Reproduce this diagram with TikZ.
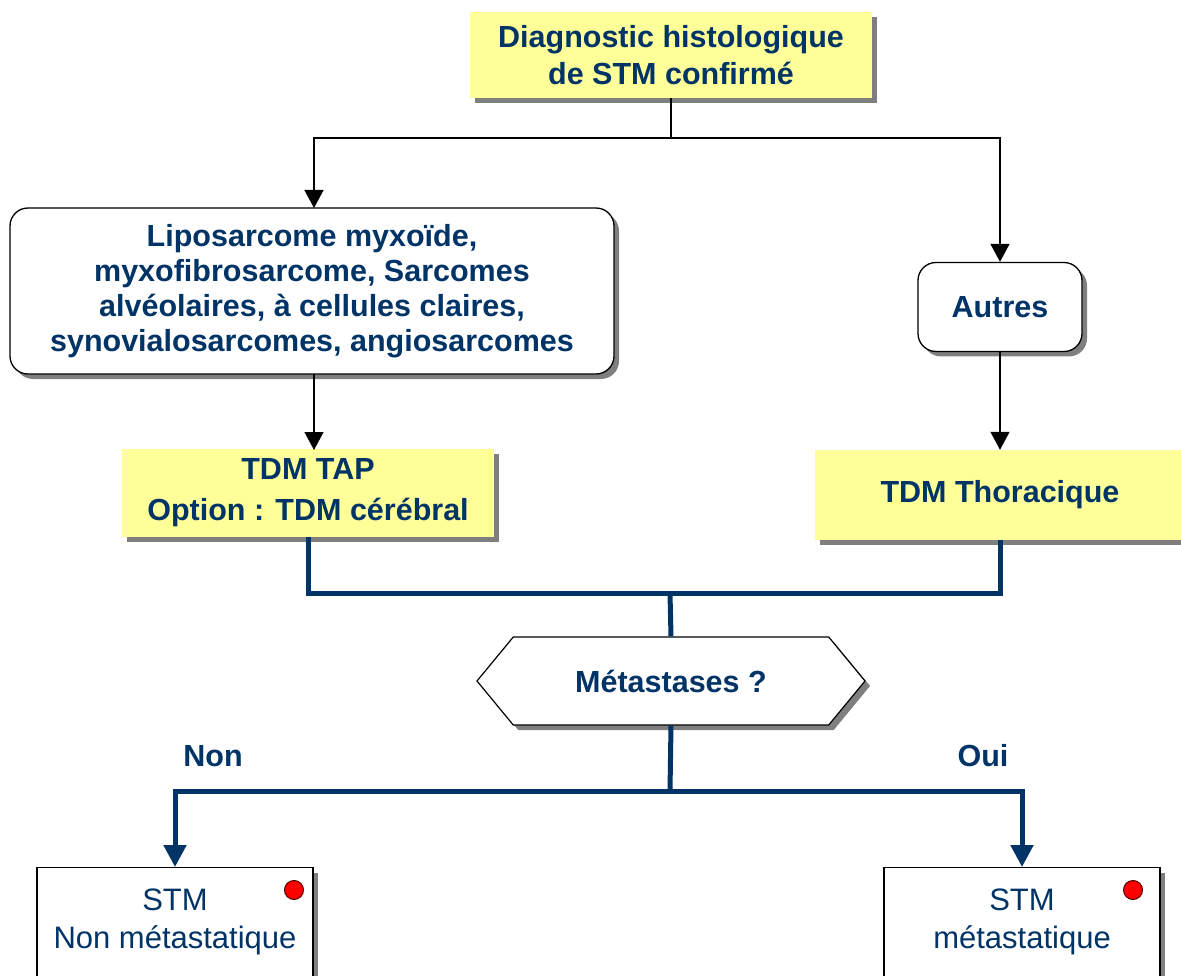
\documentclass[tikz,border=0pt]{standalone}
\usepackage{fontspec}
\setmainfont{Liberation Sans}
\usetikzlibrary{shadows,shapes.symbols,arrows.meta}
\definecolor{navy}{HTML}{003366}
\definecolor{pale}{HTML}{FFFF99}
\definecolor{shade}{HTML}{7F7F7F}
\tikzset{
  shad/.style={drop shadow={shadow xshift=5pt,shadow yshift=-5pt,fill=shade,opacity=1}},
  ybox/.style={fill=pale,shad,align=center,text=navy,font=\bfseries\fontsize{30.5}{39}\selectfont,inner sep=0pt},
  rbox/.style={draw=black,line width=1.3pt,fill=white,rounded corners=18pt,shad,align=center,text=navy,font=\bfseries\fontsize{30.5}{35}\selectfont,inner sep=0pt},
  wbox/.style={draw=black,line width=1.3pt,fill=white,shad,inner sep=0pt},
  btext/.style={align=center,text=navy,font=\fontsize{31}{38}\selectfont},
  lbl/.style={text=navy,font=\bfseries\fontsize{30.5}{34}\selectfont},
  dot/.style={circle,fill=red,draw=black!70!red,line width=1pt,minimum size=19pt,inner sep=0pt},
  conn/.style={line width=1.4pt,black},
  arr/.style={-{Triangle[length=18pt,width=19pt]}},
  thick conn/.style={line width=5pt,navy},
  narr/.style={-{Triangle[length=22pt,width=22pt]}},
}
\begin{document}
\begin{tikzpicture}[x=1pt,y=-1pt]
\useasboundingbox (0,0) rectangle (1181,976);
\begin{scope}
\clip (0,0) rectangle (1181,976);
\node[ybox,minimum width=402pt,minimum height=86pt,font=\bfseries\fontsize{30.5}{37}\selectfont] (top) at (671,55) {Diagnostic histologique\\de STM confirmé};
\node[rbox,minimum width=604pt,minimum height=166pt] (left) at (312,291) {Liposarcome myxoïde,\\myxofibrosarcome, Sarcomes\\alvéolaires, à cellules claires,\\synovialosarcomes, angiosarcomes};
\node[rbox,minimum width=164pt,minimum height=89pt] (autres) at (1000,307) {Autres};
\node[ybox,minimum width=372pt,minimum height=88pt,font=\bfseries\fontsize{30.5}{41}\selectfont] (tap) at (308,493) {TDM TAP\\Option : TDM cérébral};
\node[ybox,minimum width=370pt,minimum height=90pt] (thor) at (1000,495) {TDM Thoracique};
\node[signal,signal to=west and east,signal pointer angle=101,draw=black,line width=1.2pt,fill=white,shad,minimum width=388pt,minimum height=88pt,inner sep=0pt,text=navy,font=\bfseries\fontsize{30.5}{34}\selectfont] (hex) at (671,681) {Métastases ?};
\node[lbl] (non) at (213,756) {Non};
\node[lbl] (oui) at (983,756) {Oui};
\node[wbox,minimum width=276pt,minimum height=140pt,anchor=north] (nonbox) at (175,867) {};
\node[wbox,minimum width=276pt,minimum height=140pt,anchor=north] (ouibox) at (1022,867) {};
\node[btext] (nontext) at (175,922) {STM\\Non métastatique};
\node[btext] (ouitext) at (1022,922) {STM\\métastatique};
\node[dot] (d1) at (294,890) {};
\node[dot] (d2) at (1133,890) {};
\coordinate (j1) at (671,138);
\coordinate (j2) at (670,593);
\coordinate (j3) at (670,791);
\draw[conn] (top.south) -- (j1);
\draw[conn,arr] (j1) -| (314,208);
\draw[conn,arr] (j1) -| (autres.north);
\draw[conn,arr] (314,374) -- (314,450);
\draw[conn,arr] (autres.south) -- (thor.north);
\draw[thick conn] (tap.south) |- (j2) -| (thor.south);
\draw[thick conn] (j2) -- (hex.north);
\draw[thick conn] (hex.south) -- (j3);
\draw[thick conn,narr] (j3) -| (nonbox.north);
\draw[thick conn,narr] (j3) -| (ouibox.north);
\end{scope}
\end{tikzpicture}
\end{document}
